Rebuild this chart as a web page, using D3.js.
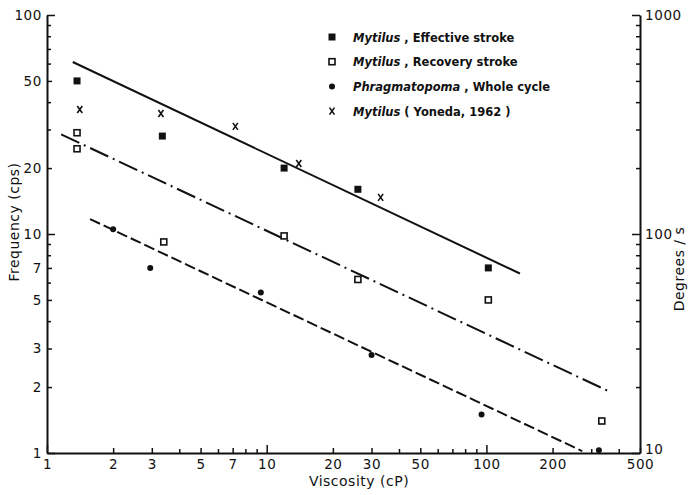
<!DOCTYPE html>
<html>
<head>
<meta charset="utf-8">
<script src="https://cdn.jsdelivr.net/npm/d3@7"></script>
<style>
  body { margin: 0; background: #fff; }
  text { font-family: "DejaVu Sans", sans-serif; fill: #111; }
</style>
</head>
<body>
<svg></svg>
<script>
// points: [viscosity cP, frequency cps]
var effective = [[1.37, 50], [3.35, 28], [12, 20], [26, 16], [102, 7]];
var recovery = [[1.37, 29], [1.37, 24.5], [3.4, 9.2], [12, 9.8], [26, 6.2], [102, 5], [335, 1.4]];
var phragma = [[2.0, 10.5], [2.95, 7], [9.4, 5.4], [30, 2.8], [95, 1.5], [325, 1.03]];
var yoneda = [[1.41, 37], [3.3, 35.5], [7.2, 31], [14, 21], [33, 14.7]];

// fitted lines, end points
var fitEffective = [[1.31, 61], [142, 6.6]];
var fitRecovery = [[1.16, 28.5], [358, 1.92]];
var fitPhragma = [[1.57, 11.7], [273, 1.02]];

var xTicks = [1, 2, 3, 4, 5, 6, 7, 8, 9, 10, 20, 30, 40, 50, 60, 70, 80, 90, 100, 200, 300, 400, 500];
var xLabels = [1, 2, 3, 5, 7, 10, 20, 30, 50, 100, 200, 500];
var yTicks = [1, 2, 3, 4, 5, 6, 7, 8, 9, 10, 20, 30, 40, 50, 60, 70, 80, 90, 100];
var yLabels = [1, 2, 3, 5, 7, 10, 20, 50, 100];
var y2Ticks = [10, 20, 30, 40, 50, 60, 70, 80, 90, 100, 200, 300, 400, 500, 600, 700, 800, 900, 1000];
var y2Labels = [10, 100, 1000];

var legendRows = [
  {genus: "Mytilus", rest: " , Effective stroke", mark: "filled"},
  {genus: "Mytilus", rest: " , Recovery stroke", mark: "open"},
  {genus: "Phragmatopoma", rest: " , Whole cycle", mark: "dot"},
  {genus: "Mytilus", rest: " ( Yoneda, 1962 )", mark: "cross"}
];

var screen = {width: 689, height: 495};
var margins = {top: 15, bottom: 42, left: 47, right: 49};

var svg = d3.select("svg")
  .attr("width", screen.width)
  .attr("height", screen.height);

var xScale = d3.scaleLog()
  .domain([1, 500])
  .range([margins.left, screen.width - margins.right]);

var yScale = d3.scaleLog()
  .domain([1, 100])
  .range([screen.height - margins.bottom, margins.top]);

var y2Scale = d3.scaleLog()
  .domain([10, 1000])
  .range([screen.height - margins.bottom, margins.top]);

var isDecade = function(v) { return Math.abs(Math.log10(v) - Math.round(Math.log10(v))) < 1e-9; };
var tickLen = function(v, labels) {
  if (isDecade(v)) return 8;
  if (labels.indexOf(v) >= 0) return 5;
  return 4;
};

var styleAxis = function(g) {
  g.select(".domain").attr("stroke", "#111").attr("stroke-width", 2);
  g.selectAll(".tick line").attr("stroke", "#111").attr("stroke-width", 1.5);
  g.selectAll(".tick text").attr("font-size", 13.5).attr("letter-spacing", 0.6).attr("fill", "#111");
};

// bottom axis
var xAxis = svg.append("g")
  .attr("transform", "translate(0," + (screen.height - margins.bottom) + ")")
  .call(d3.axisBottom(xScale)
    .tickValues(xTicks)
    .tickSizeInner(-4).tickSizeOuter(0).tickPadding(6)
    .tickFormat(function(d) { return xLabels.indexOf(d) >= 0 ? d : ""; }))
  .call(styleAxis);
xAxis.selectAll(".tick line").attr("y2", function(d) { return -tickLen(d, xLabels); });

// left axis
var yAxis = svg.append("g")
  .attr("transform", "translate(" + margins.left + ",0)")
  .call(d3.axisLeft(yScale)
    .tickValues(yTicks)
    .tickSizeInner(-4).tickSizeOuter(0).tickPadding(5)
    .tickFormat(function(d) { return yLabels.indexOf(d) >= 0 ? d : ""; }))
  .call(styleAxis);
yAxis.selectAll(".tick line").attr("x2", function(d) { return tickLen(d, yLabels); });

// right axis
var y2Axis = svg.append("g")
  .attr("transform", "translate(" + (screen.width - margins.right) + ",0)")
  .call(d3.axisRight(y2Scale)
    .tickValues(y2Ticks)
    .tickSizeInner(-4).tickSizeOuter(0).tickPadding(5)
    .tickFormat(function(d) { return y2Labels.indexOf(d) >= 0 ? d : ""; }))
  .call(styleAxis);
y2Axis.selectAll(".tick line").attr("x2", function(d) { return -tickLen(d, y2Labels); });
// the bottom "10" sits a little higher so it clears the "500" below it
y2Axis.selectAll(".tick text")
  .filter(function(d) { return d == 10; })
  .attr("dy", "0.05em");

// axis titles
svg.append("text")
  .attr("x", 359).attr("y", 486)
  .attr("text-anchor", "middle")
  .attr("font-size", 14)
  .attr("letter-spacing", 0.5)
  .text("Viscosity  (cP)");

svg.append("text")
  .attr("transform", "translate(19,222) rotate(-90)")
  .attr("text-anchor", "middle")
  .attr("font-size", 14)
  .attr("letter-spacing", 0.5)
  .text("Frequency  (cps)");

svg.append("text")
  .attr("transform", "translate(684,269) rotate(-90)")
  .attr("text-anchor", "middle")
  .attr("font-size", 14)
  .attr("letter-spacing", 0.5)
  .text("Degrees / s");

// fitted lines
var line = d3.line()
  .x(function(d) { return xScale(d[0]); })
  .y(function(d) { return yScale(d[1]); });

var plotLand = svg.append("g").classed("plot", true);

plotLand.append("path").datum(fitEffective)
  .attr("d", line).attr("fill", "none")
  .attr("stroke", "#111").attr("stroke-width", 2);

plotLand.append("path").datum(fitRecovery)
  .attr("d", line).attr("fill", "none")
  .attr("stroke", "#111").attr("stroke-width", 2)
  .attr("stroke-dasharray", "20,5,2,5");

plotLand.append("path").datum(fitPhragma)
  .attr("d", line).attr("fill", "none")
  .attr("stroke", "#111").attr("stroke-width", 2)
  .attr("stroke-dasharray", "11,4");

// markers
var drawMark = function(sel, type) {
  sel.each(function() {
    var g = d3.select(this);
    if (type == "filled") {
      g.append("rect").attr("x", -3.5).attr("y", -3.5).attr("width", 7).attr("height", 7).attr("fill", "#111");
    } else if (type == "open") {
      g.append("rect").attr("x", -3).attr("y", -3).attr("width", 6).attr("height", 6)
        .attr("fill", "#fff").attr("stroke", "#111").attr("stroke-width", 1.6);
    } else if (type == "dot") {
      g.append("circle").attr("r", 3).attr("fill", "#111");
    } else {
      g.append("path").attr("d", "M-2.5,-3.5L2.5,3.5M2.5,-3.5L-2.5,3.5")
        .attr("stroke", "#111").attr("stroke-width", 1.6).attr("fill", "none");
    }
  });
};

var series = [
  {data: effective, mark: "filled"},
  {data: recovery, mark: "open"},
  {data: phragma, mark: "dot"},
  {data: yoneda, mark: "cross"}
];

series.forEach(function(s) {
  var pts = plotLand.selectAll(null)
    .data(s.data)
    .enter()
    .append("g")
    .attr("transform", function(d) { return "translate(" + xScale(d[0]) + "," + yScale(d[1]) + ")"; });
  drawMark(pts, s.mark);
});

// legend
var legend = svg.append("g")
  .classed("legend", true)
  .attr("transform", "translate(332,37)");

var legendLines = legend.selectAll("g")
  .data(legendRows)
  .enter()
  .append("g")
  .attr("transform", function(d, i) { return "translate(0," + (i * 24.7) + ")"; });

legendLines.each(function(d) { drawMark(d3.select(this), d.mark); });

var legendText = legendLines.append("text")
  .attr("x", 21).attr("y", 4.5)
  .attr("font-size", 11.5)
  .attr("font-weight", "bold");
legendText.append("tspan").attr("font-style", "italic").text(function(d) { return d.genus; });
legendText.append("tspan").text(function(d) { return d.rest; });
</script>
</body>
</html>
